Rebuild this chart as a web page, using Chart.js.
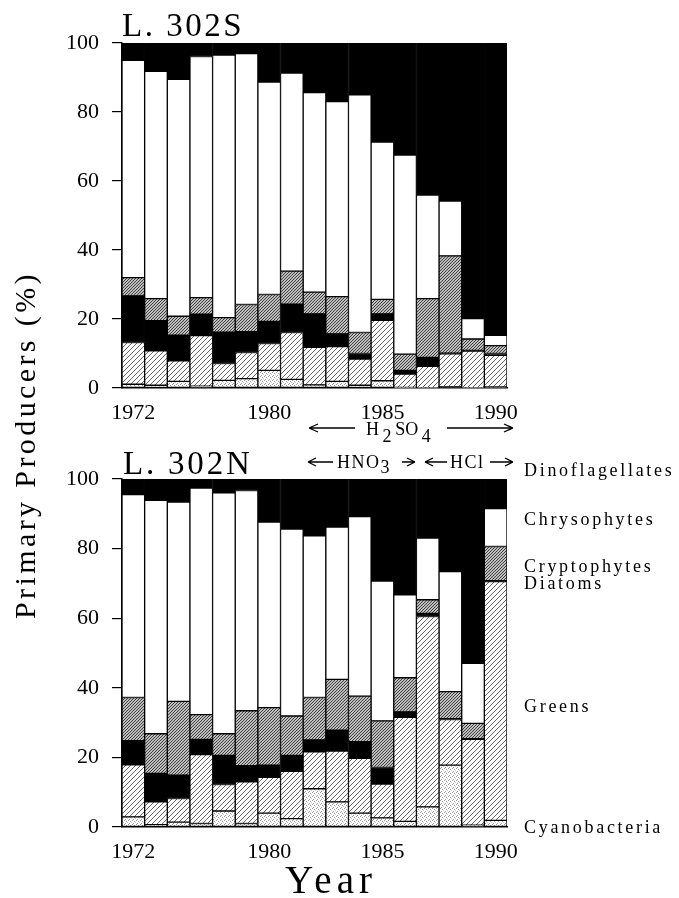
<!DOCTYPE html>
<html>
<head>
<meta charset="utf-8">
<script src="https://cdn.jsdelivr.net/npm/chart.js@4.4.0/dist/chart.umd.min.js"></script>
<style>
body { margin: 0; background: #fff; }
#page { position: relative; width: 679px; height: 898px; overflow: hidden; font-family: 'Liberation Serif', serif; color: #000; }
canvas { position: absolute; left: 0; }
.t { position: absolute; white-space: nowrap; line-height: 1; }
.lab { font-size: 18px; letter-spacing: 2.7px; left: 524px; }
.sub { position: relative; top: 7px; }
svg { position: absolute; left: 0; top: 0; }
</style>
</head>
<body>
<div id="page">
  <canvas id="chartS" width="679" height="430" style="top:0"></canvas>
  <canvas id="chartN" width="679" height="462" style="top:436px"></canvas>

  <div class="t" style="left:122px;top:9px;font-size:33px;letter-spacing:2.5px">L. 302S</div>
  <div class="t" style="left:123px;top:447px;font-size:33px;letter-spacing:2.8px">L. 302N</div>

  <div class="t" style="left:25px;top:445px;font-size:30px;letter-spacing:3.4px;transform:translate(-50%,-50%) rotate(-90deg)">Primary Producers (%)</div>
  <div class="t" style="left:331px;top:860px;font-size:39px;letter-spacing:5px;transform:translateX(-50%)">Year</div>

  <div class="t" style="left:366px;top:420px;font-size:18px">H<span class="sub">&thinsp;2</span>&thinsp;SO<span class="sub">&thinsp;4</span></div>
  <div class="t" style="left:337px;top:453px;font-size:18px;letter-spacing:1.5px">HNO<span class="sub" style="top:5px">3</span></div>
  <div class="t" style="left:450px;top:453px;font-size:18px;letter-spacing:1.5px">HCl</div>

  <div class="t lab" style="top:461px">Dinoflagellates</div>
  <div class="t lab" style="top:510px">Chrysophytes</div>
  <div class="t lab" style="top:557px">Cryptophytes</div>
  <div class="t lab" style="top:574px">Diatoms</div>
  <div class="t lab" style="top:697px">Greens</div>
  <div class="t lab" style="top:818px">Cyanobacteria</div>

  <svg width="679" height="898">
    <g stroke="#000" stroke-width="1.3" fill="none">
      <path d="M309 428 H355 M309 428 L318 424 M309 428 L318 432"/>
      <path d="M447 428 H513 M513 428 L504 424 M513 428 L504 432"/>
      <path d="M308 462 H333 M308 462 L316 458 M308 462 L316 466"/>
      <path d="M402 462 H415 M415 462 L407 458 M415 462 L407 466"/>
      <path d="M425 462 H447 M425 462 L433 458 M425 462 L433 466"/>
      <path d="M490 462 H513 M513 462 L505 458 M513 462 L505 466"/>
    </g>
  </svg>
</div>

<script>
// years under the bars, only some are labelled
var years = ['1972', '', '', '', '', '', '1980', '', '', '', '', '1985', '', '', '', '', '1990'];
var groups = ['Cyanobacteria', 'Greens', 'Diatoms', 'Cryptophytes', 'Chrysophytes', 'Dinoflagellates'];
var yTicks = [0, 20, 40, 60, 80, 100];

// L. 302S (%)
var cyanoS   = [1.1, 0.8, 1.9, 0.5, 2.2, 2.7, 5.1, 2.5, 0.9, 1.9, 0.8, 2.1, 0.2, 0.1, 0.4, 0.1, 0.3];
var greensS  = [12.1, 10.0, 6.0, 14.7, 4.9, 7.6, 7.8, 13.6, 10.9, 10.1, 7.6, 17.5, 3.8, 6.2, 9.5, 10.6, 9.2];
var diatomsS = [13.5, 8.7, 7.4, 6.2, 9.1, 6.0, 6.4, 8.2, 9.7, 3.7, 1.6, 1.9, 1.1, 2.6, 0.2, 0.2, 0.5];
var cryptoS  = [5.3, 6.4, 5.5, 4.8, 4.2, 7.9, 7.8, 9.6, 6.3, 10.8, 6.1, 4.2, 4.7, 17.0, 28.2, 3.3, 2.3];
var chrysoS  = [63.0, 65.9, 68.7, 69.9, 76.1, 72.7, 61.6, 57.4, 57.8, 56.5, 68.9, 45.6, 57.7, 30.0, 15.9, 5.9, 3.0];
var dinoS    = [5.0, 8.2, 10.5, 3.9, 3.5, 3.1, 11.3, 8.7, 14.4, 17.0, 15.0, 28.7, 32.5, 44.1, 45.8, 79.9, 84.7];

// L. 302N (%)
var cyanoN   = [2.9, 0.7, 1.4, 1.0, 4.6, 1.0, 4.0, 2.4, 11.0, 7.2, 4.0, 2.6, 1.6, 5.8, 17.8, 0.5, 1.9];
var greensN  = [15.0, 6.5, 6.8, 19.8, 7.6, 12.0, 10.3, 13.6, 10.6, 14.6, 15.7, 9.7, 29.9, 54.7, 13.1, 24.7, 68.6];
var diatomsN = [6.9, 8.2, 6.7, 4.4, 8.4, 4.6, 3.5, 4.6, 3.4, 6.0, 4.8, 4.8, 1.6, 0.9, 0.2, 0.2, 0.3];
var cryptoN  = [12.4, 11.4, 21.2, 7.1, 6.2, 15.8, 16.5, 11.3, 12.2, 14.6, 13.1, 13.4, 9.8, 3.9, 7.8, 4.4, 9.8];
var chrysoN  = [58.3, 67.1, 57.3, 65.1, 69.2, 63.3, 53.3, 53.7, 46.5, 43.8, 51.6, 40.2, 23.8, 17.7, 34.5, 17.2, 10.9];
var dinoN    = [4.5, 6.1, 6.6, 2.6, 4.0, 3.3, 12.4, 14.4, 16.3, 13.8, 10.8, 29.3, 33.3, 17.0, 26.6, 53.0, 8.5];

function hatchTile(size, bg, fg, lw) {
  var c = document.createElement('canvas');
  c.width = c.height = size;
  var g = c.getContext('2d');
  g.fillStyle = bg;
  g.fillRect(0, 0, size, size);
  g.strokeStyle = fg;
  g.lineWidth = lw;
  g.beginPath();
  g.moveTo(0, size); g.lineTo(size, 0);
  g.moveTo(-1, 1); g.lineTo(1, -1);
  g.moveTo(size - 1, size + 1); g.lineTo(size + 1, size - 1);
  g.stroke();
  return c;
}

function stippleTile() {
  var c = document.createElement('canvas');
  c.width = c.height = 4;
  var g = c.getContext('2d');
  g.fillStyle = '#fff';
  g.fillRect(0, 0, 4, 4);
  g.fillStyle = '#9a9a9a';
  g.fillRect(0, 0, 1, 1);
  g.fillRect(2, 1, 1, 1);
  g.fillRect(1, 3, 1, 1);
  g.fillStyle = '#c8c8c8';
  g.fillRect(3, 2, 1, 1);
  return c;
}

function makeChart(id, series, xHeight) {
  var ctx = document.getElementById(id).getContext('2d');
  var fills = [
    ctx.createPattern(stippleTile(), 'repeat'),
    ctx.createPattern(hatchTile(5, '#fff', '#555', 0.9), 'repeat'),
    '#000',
    ctx.createPattern(hatchTile(3, '#bdbdbd', '#333', 0.9), 'repeat'),
    '#fff',
    '#000'
  ];
  var datasets = [];
  for (var i = 0; i < groups.length; i++) {
    datasets.push({
      label: groups[i],
      data: series[i],
      backgroundColor: fills[i],
      borderColor: '#000',
      borderWidth: 1,
      borderSkipped: false,
      barPercentage: 1,
      categoryPercentage: 1
    });
  }
  var tickFont = { family: 'Liberation Serif', size: 22 };
  return new Chart(ctx, {
    type: 'bar',
    data: { labels: years, datasets: datasets },
    options: {
      responsive: false,
      animation: false,
      devicePixelRatio: 1,
      layout: { padding: { top: 43, right: 172, left: 0, bottom: 0 } },
      plugins: { legend: { display: false }, tooltip: { enabled: false } },
      scales: {
        x: {
          stacked: true,
          grid: { display: false },
          border: { display: true, color: '#000', width: 1.5 },
          ticks: { autoSkip: false, maxRotation: 0, color: '#000', font: tickFont, padding: 4 },
          afterFit: function (s) { s.height = xHeight; }
        },
        y: {
          stacked: true,
          min: 0,
          max: 100,
          afterBuildTicks: function (s) { s.ticks = yTicks.map(function (v) { return { value: v }; }); },
          grid: { drawOnChartArea: false, drawTicks: true, tickLength: 10, color: '#000', lineWidth: 1.2 },
          border: { display: true, color: '#000', width: 1.5 },
          ticks: { color: '#000', font: tickFont, padding: 13 },
          afterFit: function (s) { s.width = 122; }
        }
      }
    }
  });
}

makeChart('chartS', [cyanoS, greensS, diatomsS, cryptoS, chrysoS, dinoS], 42);
makeChart('chartN', [cyanoN, greensN, diatomsN, cryptoN, chrysoN, dinoN], 71);
</script>
</body>
</html>
